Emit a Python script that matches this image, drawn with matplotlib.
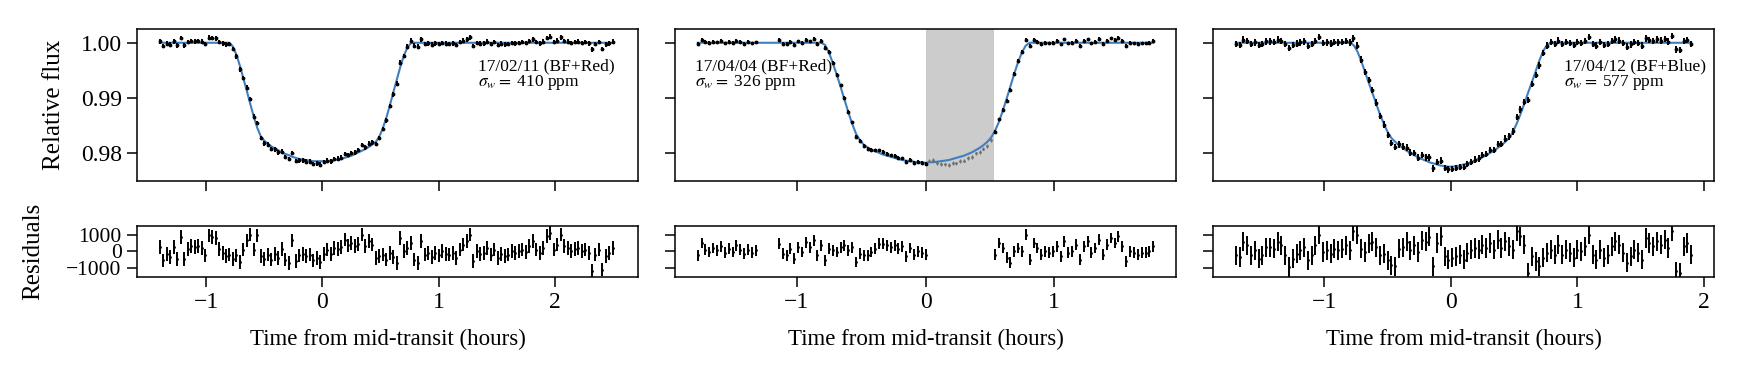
import numpy as np
import matplotlib
matplotlib.use('Agg')
import matplotlib.pyplot as plt
from matplotlib.ticker import FormatStrFormatter

plt.rcParams['font.family'] = 'serif'
plt.rcParams['font.serif'] = ['Liberation Serif', 'DejaVu Serif']
plt.rcParams['mathtext.fontset'] = 'stix'

# ---- data ---------------------------------------------------------------
# cadence ~0.03 h, times in hours from mid-transit
CADENCE = 0.03

# 17/02/11 (BF+Red)
t1_start, n1 = -1.40, 131
model1 = ([1.0] * 21 +
          [0.9993, 0.9978, 0.9958, 0.9935, 0.9912, 0.9888, 0.9865, 0.9845,
           0.9830, 0.9822, 0.9817, 0.9812, 0.9808, 0.9805, 0.9801, 0.9798,
           0.9796, 0.9793, 0.9791, 0.9789, 0.9788, 0.9787, 0.9786, 0.9785,
           0.9785, 0.9785, 0.9785, 0.9785, 0.9786, 0.9787, 0.9788, 0.9789,
           0.9791, 0.9793, 0.9795, 0.9798, 0.9801, 0.9804, 0.9807, 0.9811,
           0.9815, 0.9820, 0.9830, 0.9845, 0.9864, 0.9886, 0.9910, 0.9933,
           0.9956, 0.9976, 0.9991, 0.9999] +
          [1.0] * 58)
resid1 = [270, -550, -150, -350, 250, -450, 850, -450, 150, 300,
          250, 300, 200, -250, 950, 850, 800, 150, -100, -300,
          -200, -450, -250, -650, 100, 650, 1000, 100, 950, -300,
          -450, -200, -500, -150, -400, 150, -500, -700, 650, -600,
          -250, -150, -300, -200, -550, -400, -650, -150, 100, -150,
          200, 150, 250, 700, 350, 500, 300, 450, 1000, 300,
          600, 400, -400, -300, -200, -500, -100, -350, -700, 800,
          0, 200, 500, -500, -700, 600, -200, -100, -350, -100,
          -250, 0, -150, -200, -100, -400, 100, 400, 600, 1000,
          -600, 0, -150, -100, 200, -200, 100, -400, -150, -300,
          -200, 0, -100, 0, 100, -50, 300, 600, 100, -100,
          200, 900, 1100, 100, 400, 1000, 300, 200, 0, 150,
          200, 0, 100, -100, -1200, -200, 100, -1100, -300, -100,
          200]

# 17/04/04 (BF+Red): segments (start, count); middle part excluded (shaded)
segments2 = [(-1.77, 16), (-1.14, 39), (0.03, 17), (0.54, 42)]
shade2 = (0.0, 0.535)
model2 = ([1.0] * 16 +
          [1.0] * 12 +
          [0.9996, 0.9982, 0.9963, 0.9942, 0.9920, 0.9897, 0.9874, 0.9853,
           0.9835, 0.9823, 0.9815, 0.9810, 0.9806, 0.9803, 0.9800, 0.9797,
           0.9795, 0.9793, 0.9791, 0.9789, 0.9787, 0.9786, 0.9785, 0.9784,
           0.9783, 0.9783, 0.9782] +
          [0.9783, 0.9783, 0.9784, 0.9785, 0.9786, 0.9787, 0.9789, 0.9791,
           0.9793, 0.9795, 0.9798, 0.9801, 0.9805, 0.9809, 0.9814, 0.9820,
           0.9828] +
          [0.9840, 0.9856, 0.9876, 0.9898, 0.9921, 0.9944, 0.9965, 0.9983,
           0.9995] + [1.0] * 33)
resid2 = ([-250, 500, 100, -50, 200, 50, 300, -100, 150, -50, 350, 100,
           -150, 100, -100, 50] +
          [450, -150, -250, 150, -450, 250, -50, 550, 250, 650,
           -250, 350, -550, 150, 50, -50, 250, 350, 50, 250,
           -650, -150, -250, -250, -50, 150, 450, 450, 350, 250,
           350, 150, 300, -300, 200, -200, 0, -100, -200] +
          [300, 500, -200, -500, -700, -900, -700, -1000, -800, -900,
           -700, -800, -600, -700, -600, -700, -500] +
          [-200, 500, 200, -400, -700, 0, 200, 0, 1000, -500,
           500, 200, -200, 0, -100, 0, 300, -300, 600, -100,
           0, 400, -500, 300, 600, -100, 200, 700, -200, 400,
           800, 500, 900, 300, -600, 0, -100, -200, -100, -100,
           0, 300])

# 17/04/12 (BF+Blue)
t3_start, n3 = -1.70, 121
model3 = ([1.0] * 31 +
          [0.9996, 0.9985, 0.9968, 0.9948, 0.9928, 0.9909, 0.9889, 0.9870,
           0.9853, 0.9838, 0.9827, 0.9820, 0.9814, 0.9809, 0.9804, 0.9800,
           0.9796, 0.9792, 0.9789, 0.9786, 0.9783, 0.9781, 0.9779, 0.9777,
           0.9776, 0.9775, 0.9775, 0.9776, 0.9777, 0.9779, 0.9781, 0.9783,
           0.9786, 0.9789, 0.9792, 0.9796, 0.9800, 0.9804, 0.9809, 0.9814,
           0.9820, 0.9827, 0.9838, 0.9853, 0.9870, 0.9889, 0.9909, 0.9928,
           0.9948, 0.9968, 0.9985, 0.9996] +
          [1.0] * 38)
resid3 = [-250, -350, 570, 370, -250, 50, -450, -250, 250, 250,
          150, 570, 370, -250, -950, -450, -150, 50, 250, -550,
          -250, 370, 1000, -50, 50, -150, 150, 50, 150, 370,
          50, 1200, 1000, 150, -50, 470, 570, 250, -250, -150,
          -550, -850, -900, 150, 250, 570, 50, 370, -50, 670,
          570, 880, -900, 500, 900, -300, -500, -400, -300, -200,
          -500, -100, 100, 200, 100, 400, 200, 500, 100, 700,
          200, 600, 300, 100, 1200, 900, 400, -1300, -300, -600,
          -900, -400, -100, 100, -200, 400, -200, 100, -100, -400,
          100, 0, 300, 1000, -200, -500, 100, -400, -200, 300,
          600, 400, -100, -700, -300, 100, -100, -500, 800, 500,
          300, 600, 400, 700, 200, 1200, -1200, -1300, 300, 500,
          -200]

labels = ['17/02/11 (BF+Red)', '17/04/04 (BF+Red)', '17/04/12 (BF+Blue)']
sigma_w = [410, 326, 577]   # ppm
label_x = [0.68, 0.04, 0.70]

MODEL_COLOR = '#3d7fc1'


def times(start, count):
    return np.round(start + CADENCE * np.arange(count), 3)


t1 = times(t1_start, n1)
t2 = np.concatenate([times(s, n) for s, n in segments2])
t3 = times(t3_start, n3)

series = [(t1, np.array(model1), np.array(resid1, float)),
          (t2, np.array(model2), np.array(resid2, float)),
          (t3, np.array(model3), np.array(resid3, float))]

fig = plt.figure(figsize=(17.44, 3.74), dpi=100)
lefts = [137 / 1744, 675 / 1744, 1213 / 1744]
width = 501 / 1744

top_axes, res_axes = [], []
for j, (t, model, resid) in enumerate(series):
    ax = fig.add_axes([lefts[j], 1 - 181 / 374, width, 152 / 374],
                      sharey=top_axes[0] if top_axes else None)
    axr = fig.add_axes([lefts[j], 1 - 277 / 374, width, 51 / 374],
                       sharex=ax, sharey=res_axes[0] if res_axes else None)
    top_axes.append(ax)
    res_axes.append(axr)

    flux = model + resid * 1e-6
    err = sigma_w[j]
    if j == 1:
        cut = (t > shade2[0]) & (t < shade2[1])
        ax.axvspan(shade2[0], shade2[1], color='#cccccc', lw=0, zorder=0)
    else:
        cut = np.zeros(len(t), bool)

    ax.plot(t, model, color=MODEL_COLOR, lw=1.5, zorder=2)
    ax.errorbar(t[~cut], flux[~cut], yerr=err * 1e-6, fmt='.', color='k',
                ms=3.5, elinewidth=1.4, capsize=0, zorder=3)
    if cut.any():
        ax.errorbar(t[cut], flux[cut], yerr=err * 1e-6, fmt='.',
                    color='#707070', ms=2, elinewidth=0.8, capsize=0,
                    zorder=3)
    axr.errorbar(t[~cut], resid[~cut], yerr=err, fmt='.', color='k',
                 ms=2, elinewidth=1.4, capsize=0)

    ax.text(label_x[j], 0.752, labels[j], transform=ax.transAxes,
            fontsize=12.5, ha='left', va='center')
    ax.text(label_x[j], 0.647, r'$\sigma_w =$ %d ppm' % sigma_w[j],
            transform=ax.transAxes, fontsize=12.5, ha='left', va='center')

    for a in (ax, axr):
        a.tick_params(direction='out', length=7, width=1.1, labelsize=17)
        for s in a.spines.values():
            s.set_linewidth(1.1)
    axr.tick_params(axis='y', labelsize=15.5, pad=4)
    ax.tick_params(labelbottom=False)
    if j > 0:
        ax.tick_params(labelleft=False)
        axr.tick_params(labelleft=False)
    axr.set_xlabel('Time from mid-transit (hours)', fontsize=16.5,
                   labelpad=12)

top_axes[0].set_ylim(0.9749, 1.0025)
top_axes[0].set_yticks([0.98, 0.99, 1.00])
top_axes[0].yaxis.set_major_formatter(FormatStrFormatter('%.2f'))
res_axes[0].set_ylim(-1550, 1520)
res_axes[0].set_yticks([-1000, 0, 1000])
top_axes[0].set_ylabel('Relative flux', fontsize=18, labelpad=12)
res_axes[0].set_ylabel('Residuals', fontsize=18, labelpad=16)
for axr in res_axes:
    axr.set_xticks([-1, 0, 1, 2])
top_axes[0].set_xlim(-1.596, 2.716)
top_axes[1].set_xlim(-1.947, 1.947)
top_axes[2].set_xlim(-1.88, 2.08)

fig.savefig('out.png', dpi=100)
